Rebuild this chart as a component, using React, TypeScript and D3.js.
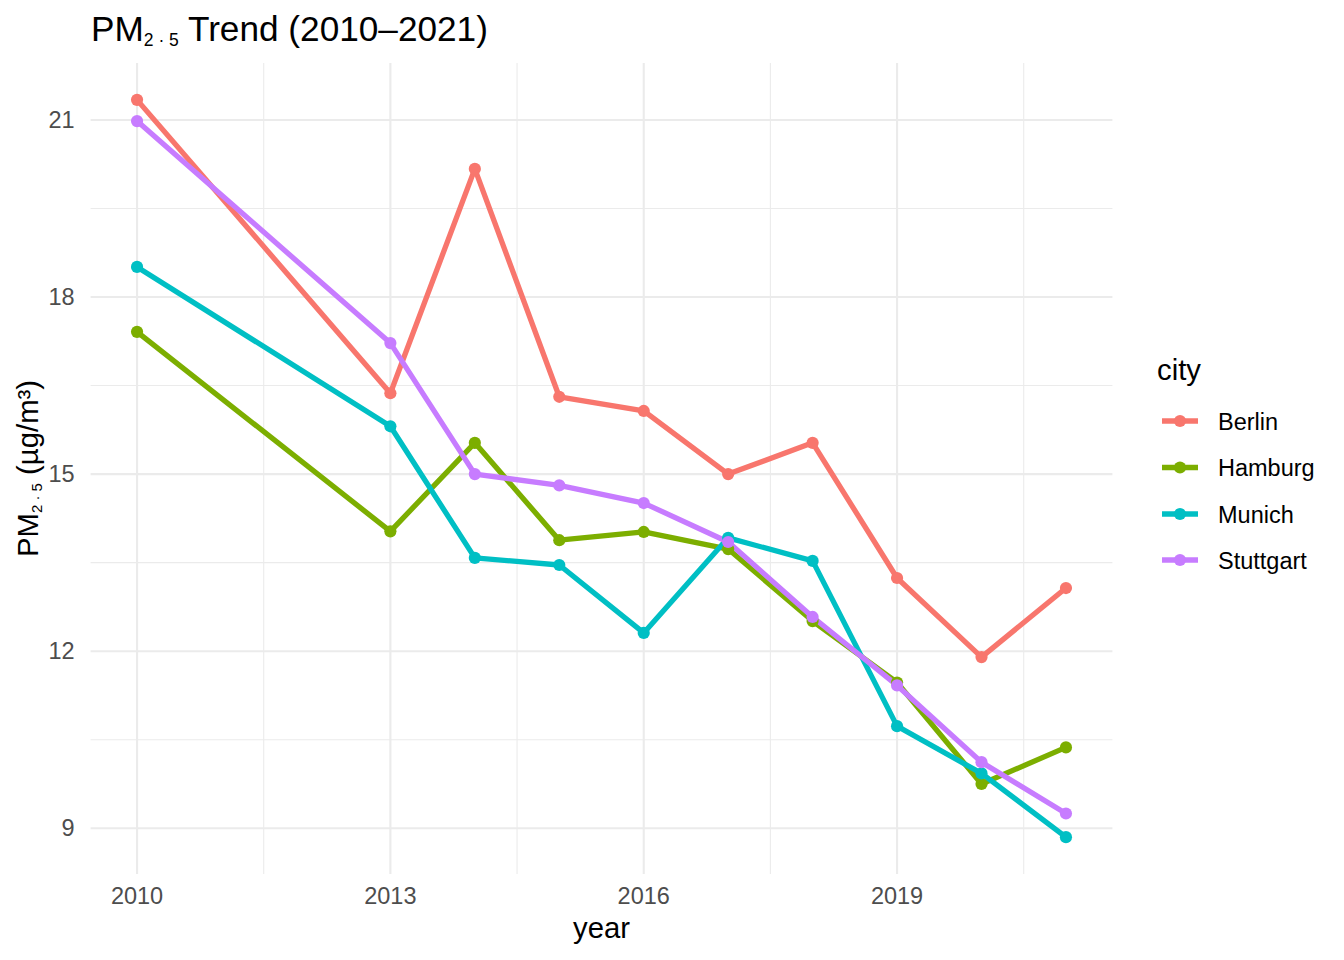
import React from "react";
import * as d3 from "d3";

const years = [2010, 2013, 2014, 2015, 2016, 2017, 2018, 2019, 2020, 2021];
const cities = ["Berlin", "Hamburg", "Munich", "Stuttgart"];
const colors = ["#F8766D", "#7CAE00", "#00BFC4", "#C77CFF"];
const berlin = [21.34, 16.37, 20.17, 16.31, 16.07, 15.0, 15.53, 13.24, 11.9, 13.07];
const hamburg = [17.41, 14.03, 15.53, 13.88, 14.02, 13.73, 12.51, 11.47, 9.75, 10.37];
const munich = [18.51, 15.81, 13.58, 13.46, 12.31, 13.92, 13.53, 10.73, 9.93, 8.85];
const stuttgart = [20.98, 17.22, 15.0, 14.81, 14.51, 13.85, 12.58, 11.42, 10.12, 9.25];
const seriesValues = [berlin, hamburg, munich, stuttgart];
const xTicks = [2010, 2013, 2016, 2019];
const xMinor = [2011.5, 2014.5, 2017.5, 2020.5];
const yTicks = [9, 12, 15, 18, 21];
const yMinor = [10.5, 13.5, 16.5, 19.5];

export default function App() {
  const W = 1344, H = 960;
  const left = 90.6, right = 1112.4, top = 63, bottom = 874;
  const allVals = seriesValues.flat();
  const yMin = d3.min(allVals)!, yMax = d3.max(allVals)!;
  const yPad = (yMax - yMin) * 0.05;
  const xPad = (2021 - 2010) * 0.05;
  const x = d3.scaleLinear().domain([2010 - xPad, 2021 + xPad]).range([left, right]);
  const y = d3.scaleLinear().domain([yMin - yPad, yMax + yPad]).range([bottom, top]);
  const line = d3.line<number>().x((_, i) => x(years[i])).y((v) => y(v));
  const font = "'Liberation Sans', Arial, Helvetica, sans-serif";
  const grid = "#EBEBEB";
  const legendY = [421, 467.5, 514, 560];
  const lw = 5.3;
  const pr = 6.1;

  return (
    <svg width={W} height={H} style={{ position: "absolute", left: 0, top: 0, background: "#fff" }} fontFamily={font}>
      <rect width={W} height={H} fill="#fff" />
      {yMinor.map((t) => (
        <line key={"ym" + t} x1={left} x2={right} y1={y(t)} y2={y(t)} stroke={grid} strokeWidth={1.1} />
      ))}
      {xMinor.map((t) => (
        <line key={"xm" + t} y1={top} y2={bottom} x1={x(t)} x2={x(t)} stroke={grid} strokeWidth={1.1} />
      ))}
      {yTicks.map((t) => (
        <line key={"y" + t} x1={left} x2={right} y1={y(t)} y2={y(t)} stroke={grid} strokeWidth={2.1} />
      ))}
      {xTicks.map((t) => (
        <line key={"x" + t} y1={top} y2={bottom} x1={x(t)} x2={x(t)} stroke={grid} strokeWidth={2.1} />
      ))}
      {seriesValues.map((vals, si) => (
        <path key={"l" + si} d={line(vals) || ""} fill="none" stroke={colors[si]} strokeWidth={lw} strokeLinejoin="round" />
      ))}
      {seriesValues.map((vals, si) =>
        vals.map((v, i) => <circle key={"p" + si + "-" + i} cx={x(years[i])} cy={y(v)} r={pr} fill={colors[si]} />)
      )}
      {yTicks.map((t) => (
        <text key={"yt" + t} x={left - 16} y={y(t) + 8} textAnchor="end" fontSize={23.5} fill="#4D4D4D">
          {t}
        </text>
      ))}
      {xTicks.map((t) => (
        <text key={"xt" + t} x={x(t)} y={904} textAnchor="middle" fontSize={23.5} fill="#4D4D4D">
          {t}
        </text>
      ))}
      <text x={(left + right) / 2} y={938} textAnchor="middle" fontSize={29.3} fill="#000">
        year
      </text>
      <text transform={`translate(38,${(top + bottom) / 2}) rotate(-90)`} textAnchor="middle" fontSize={29.3} fill="#000">
        PM<tspan fontSize={15} dy={3.5}>{"2 · 5"}</tspan>
        <tspan dy={-3.5}> (µg/m³)</tspan>
      </text>
      <text x={91} y={41} fontSize={35.2} fill="#000">
        PM<tspan fontSize={17.5} dy={4.5}>{"2 · 5"}</tspan>
        <tspan dy={-4.5}> Trend (2010–2021)</tspan>
      </text>
      <text x={1157} y={380} fontSize={29.3} fill="#000">
        city
      </text>
      {cities.map((c, i) => (
        <g key={"lg" + c}>
          <line x1={1162} x2={1198} y1={legendY[i]} y2={legendY[i]} stroke={colors[i]} strokeWidth={lw} />
          <circle cx={1180} cy={legendY[i]} r={pr} fill={colors[i]} />
          <text x={1218} y={legendY[i] + 8.5} fontSize={23.5} fill="#000">
            {c}
          </text>
        </g>
      ))}
    </svg>
  );
}
